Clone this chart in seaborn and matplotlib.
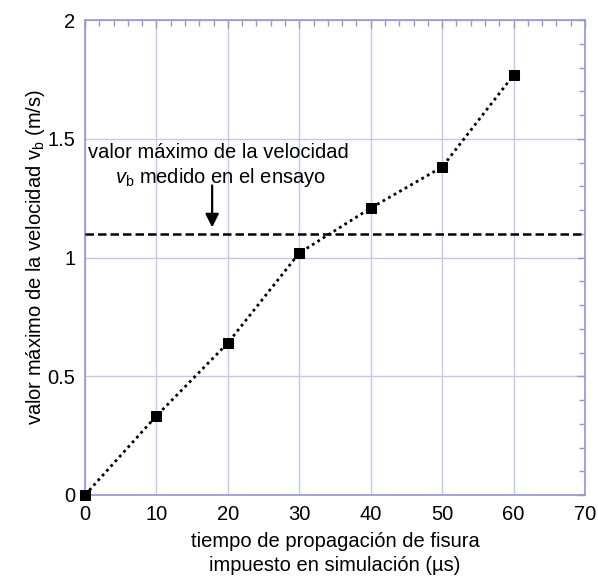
import matplotlib
matplotlib.use("Agg")
import matplotlib.pyplot as plt
from matplotlib.ticker import MultipleLocator, FuncFormatter
import seaborn as sns
import pandas as pd

# ---- data ----
tiempo_us = [0, 10, 20, 30, 40, 50, 60]
velocidad_ms = [0.0, 0.333, 0.64, 1.019, 1.208, 1.381, 1.768]
velocidad_ensayo = 1.1
x_ticks = [0, 10, 20, 30, 40, 50, 60, 70]
y_ticks = [0, 0.5, 1, 1.5, 2]

sns.set_theme(style="white")
plt.rcParams["font.family"] = ["Liberation Sans", "DejaVu Sans"]
plt.rcParams["mathtext.fontset"] = "custom"
plt.rcParams["mathtext.rm"] = "Liberation Sans"
plt.rcParams["mathtext.it"] = "Liberation Sans:italic"

frame_col = "#9494dc"
grid_col = "#c6c6f0"
fs = 14.5

df = pd.DataFrame({"t": tiempo_us, "v": velocidad_ms})

fig = plt.figure(figsize=(5.98, 5.80), dpi=100)
ax = fig.add_axes([85 / 598, 85 / 580, 500 / 598, 475 / 580])

ax.axhline(velocidad_ensayo, color="black", lw=1.8, linestyle=(0, (3.4, 1.6)), zorder=3)

sns.lineplot(data=df, x="t", y="v", ax=ax, color="black", linestyle=(0, (1, 1.3)), lw=2.0,
             marker="s", markersize=7, markeredgecolor="black", markerfacecolor="black",
             zorder=4, clip_on=False)

ax.set_xlim(x_ticks[0], x_ticks[-1])
ax.set_ylim(y_ticks[0], y_ticks[-1])
ax.set_xticks(x_ticks)
ax.set_yticks(y_ticks)
ax.xaxis.set_minor_locator(MultipleLocator(2))
ax.yaxis.set_minor_locator(MultipleLocator(0.1))
ax.yaxis.set_major_formatter(FuncFormatter(lambda v, p: f"{v:g}"))

ax.grid(True, which="major", color=grid_col, lw=1.0)
ax.set_axisbelow(True)
for s in ax.spines.values():
    s.set_color(frame_col)
    s.set_linewidth(1.2)

ax.tick_params(which="both", direction="in", top=True, right=True, color=frame_col,
               labelsize=fs, labelcolor="black")
ax.tick_params(which="major", length=6, width=1.0, pad=7)
ax.tick_params(which="minor", length=4, width=1.0)

ax.set_xlabel("tiempo de propagación de fisura\nimpuesto en simulación (µs)",
              fontsize=fs, color="black", labelpad=6, linespacing=1.3)
ax.set_ylabel("valor máximo de la velocidad v$_\\mathrm{b}$ (m/s)",
              fontsize=fs, color="black", labelpad=0)

ax.text(18.7, 1.44, "valor máximo de la velocidad", ha="center", va="center",
        fontsize=fs, color="black")
ax.text(18.9, 1.335, "$v_\\mathrm{b}$ medido en el ensayo", ha="center", va="center",
        fontsize=fs, color="black")
ax.annotate("", xy=(17.8, velocidad_ensayo + 0.015), xytext=(17.8, 1.315),
            arrowprops=dict(arrowstyle="-|>", color="black", lw=1.6, mutation_scale=20))

fig.savefig("out.png", dpi=100)
